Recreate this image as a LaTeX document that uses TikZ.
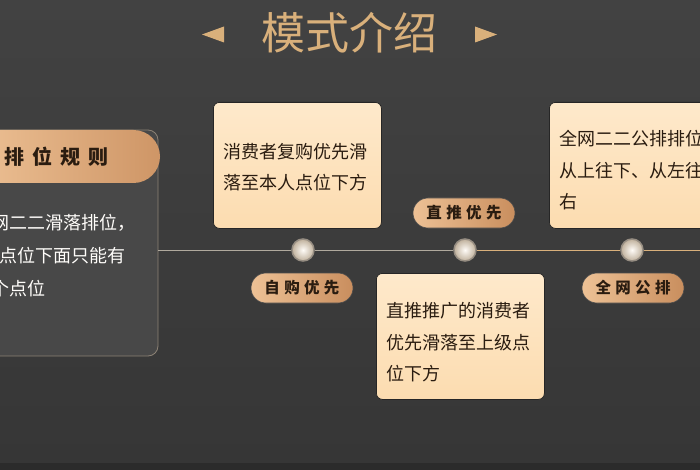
\documentclass[tikz,border=0pt]{standalone}
\usepackage{fontspec}
\setmainfont{Noto Sans CJK SC}
\newfontfamily\wide[LetterSpace=28]{Noto Sans CJK SC}
\newfontfamily\wider[LetterSpace=40]{Noto Sans CJK SC}
\usetikzlibrary{shapes.misc}
\definecolor{bgtop}{HTML}{424242}
\definecolor{bgbot}{HTML}{363636}
\definecolor{bgedge}{HTML}{2B2B2B}
\definecolor{gold}{HTML}{D9B07B}
\definecolor{goldl}{HTML}{EDC195}
\definecolor{goldr}{HTML}{C98E5E}
\definecolor{cardtop}{HTML}{FEE9CB}
\definecolor{cardbot}{HTML}{FCDCB0}
\definecolor{ink}{HTML}{2A1C10}
\definecolor{frame}{HTML}{8C8275}
\definecolor{rail}{HTML}{B0A99D}
\def\cardtext#1#2#3{\node [cardtxt] at ([yshift=#2]#1.center) {#3}}
\tikzstyle{card}=[draw=black!85,line width=.8pt,rounded corners=6pt,top color=cardtop,bottom color=cardbot,minimum width=168pt,minimum height=126pt,inner sep=0pt,anchor=north west]
\tikzstyle{cardtxt}=[text width=148pt,align=left,inner sep=0pt,font=\fontsize{18}{31.5}\selectfont,text=ink]
\tikzstyle{pill}=[rounded rectangle,draw=black!70,line width=.6pt,left color=goldl,right color=goldr,minimum width=102pt,minimum height=30pt,inner sep=0pt,font=\fontsize{15.5}{15.5}\selectfont\wide\bfseries,text=ink]
\tikzstyle{dot}=[circle,draw=frame!90!white,line width=1.5pt,inner color=white!85!cardtop,outer color=frame!55!cardtop,minimum size=22pt,inner sep=0pt]
\tikzstyle{rule}=[font=\fontsize{18}{18}\selectfont,text=white!90!cardtop,anchor=base west,inner sep=0pt]
\tikzstyle{title}=[font=\fontsize{44}{44}\selectfont,text=gold]

\begin{document}
\begin{tikzpicture}[x=1pt,y=-1pt]
    \useasboundingbox (0,0) rectangle (700,470);
    \shade[top color=bgtop,bottom color=bgbot] (0,0) rectangle (700,463);
    \fill[bgedge] (0,463) rectangle (700,470);
    \node[title] (title) at (349,33) {模式介绍};
    \fill[gold] (202,34.5) -- (224,26.5) -- (224,42.5) -- cycle;
    \fill[gold] (497,34.5) -- (475,26.5) -- (475,42.5) -- cycle;

    \draw[frame,line width=.8pt,fill=white!3!bgtop,rounded corners=10pt] (-30,130) rectangle (158,356);
    \node[rounded rectangle,rounded rectangle left arc=none,left color=goldl,right color=goldr!85!goldl,minimum width=190pt,minimum height=53pt,inner sep=0pt] (head) at (65,156.5) {};
    \node[font=\fontsize{20}{20}\selectfont\wider\bfseries,text=ink,anchor=west,inner sep=0pt] (headtxt) at (4,157) {排位规则};
    \node[rule] (r1) at (-9,229) {网二二滑落排位，};
    \node[rule] (r2) at (-1,262) {点位下面只能有};
    \node[rule] (r3) at (-9,295) {个点位};

    \node[card] (self) at (213,102) {};
    \cardtext{self}{-2pt}{消费者复购优先滑\\落至本人点位下方};
    \node[card] (push) at (376,273) {};
    \cardtext{push}{-6pt}{直推推广的消费者\\优先滑落至上级点\\位下方};
    \node[card] (all) at (549,102) {};
    \cardtext{all}{-5pt}{全网二二公排排位\\从上往下、从左往\\右};

    \coordinate (railL) at (158,250);
    \coordinate (railR) at (700,250);
    \node[dot] (d1) at (303,250) {};
    \node[dot] (d2) at (465,250) {};
    \node[dot] (d3) at (632,250) {};
    \draw[rail,line width=1pt] (railL) -- (d1) (d1) -- (d2);
    \draw[gold,line width=1pt] (d2) -- (d3) (d3) -- (railR);

    \node[pill] (selfp) at (302,288) {自购优先};
    \node[pill] (pushp) at (464,213) {直推优先};
    \node[pill] (allp) at (633,288) {全网公排};
  \end{tikzpicture}
\end{document}
